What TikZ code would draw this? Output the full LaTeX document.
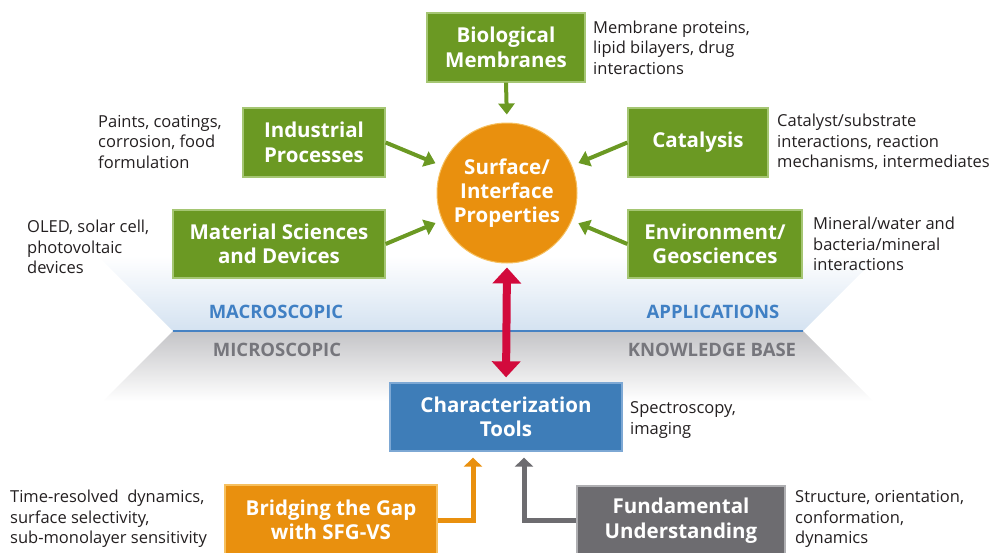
\documentclass[tikz,border=0pt]{standalone}
\usepackage{fontspec}
\setmainfont{Open Sans}
\usetikzlibrary{arrows.meta,calc}

\definecolor{leaf}{RGB}{107,153,35}
\definecolor{leafedge}{RGB}{165,198,115}
\definecolor{amber}{RGB}{233,144,14}
\definecolor{amberedge}{RGB}{246,192,95}
\definecolor{steel}{RGB}{62,125,184}
\definecolor{steeledge}{RGB}{125,168,212}
\definecolor{slate}{RGB}{109,108,112}
\definecolor{slateedge}{RGB}{175,175,178}
\definecolor{crimson}{RGB}{210,10,60}
\definecolor{ink}{RGB}{35,31,32}
\definecolor{macroblue}{RGB}{64,128,196}
\definecolor{microgray}{RGB}{118,118,124}
\definecolor{divider}{RGB}{70,130,195}
\definecolor{bandblue}{RGB}{212,226,241}
\definecolor{bandgray}{RGB}{196,196,199}

\begin{document}
\begin{tikzpicture}[x=1pt,y=-1pt,
  box/.style={draw=#1edge, fill=#1, line width=1.3pt, text=white, align=center,
    inner sep=0pt, font=\bfseries\fontsize{20.5}{24.5}\selectfont},
  desc/.style={anchor=west, align=left, inner sep=0pt, text=ink,
    font=\fontsize{16.5}{20.5}\selectfont},
  scale label/.style={inner sep=0pt, font=\bfseries\fontsize{18.5}{20}\selectfont},
  greenarrow/.style={draw=leaf, line width=4pt, shorten >=#1,
    -{Triangle[width=16pt,length=11pt]}},
  elbowarrow/.style={draw=#1, line width=5pt, shorten >=6pt,
    -{Triangle[width=18pt,length=9pt]}},
  bothways/.style={draw=crimson, line width=8pt, shorten <=4pt, shorten >=5pt,
    {Triangle[width=28pt,length=16pt]}-{Triangle[width=28pt,length=16pt]}}
]
\useasboundingbox (0,0) rectangle (994,552);
\clip (0,0) rectangle (994,552);

% macroscopic / microscopic bands
\shade[top color=white, bottom color=bandblue]
  (173,331) -- (803,331) -- (878,256) -- (98,256) -- cycle;
\shade[top color=bandgray, bottom color=white]
  (173,331) -- (803,331) -- (873,401) -- (103,401) -- cycle;
\coordinate (divL) at (173,331);
\coordinate (divR) at (803,331);
\draw[divider, line width=2pt] (divL) -- (divR);

\node[scale label, text=macroblue] (macro) at (276,312) {MACROSCOPIC};
\node[scale label, text=macroblue] (appl) at (713,312) {APPLICATIONS};
\node[scale label, text=microgray] (micro) at (277,350) {MICROSCOPIC};
\node[scale label, text=microgray] (kbase) at (712,350) {KNOWLEDGE BASE};

% central property
\node[circle, fill=amber, draw=amberedge, line width=1pt, minimum size=140pt,
  inner sep=0pt, text=white, align=center,
  font=\bfseries\fontsize{20.5}{24}\selectfont] (circ) at (507,193)
  {Surface/\\Interface\\Properties};

% application fields
\node[box=leaf, minimum width=158pt, minimum height=69pt] (bio) at (506,47.5)
  {Biological\\Membranes};
\node[box=leaf, minimum width=142pt, minimum height=69pt] (ind) at (314,142.5)
  {Industrial\\Processes};
\node[box=leaf, minimum width=212pt, minimum height=68pt] (mat) at (279,244)
  {Material Sciences\\and Devices};
\node[box=leaf, minimum width=140pt, minimum height=69pt] (cat) at (698,142.5)
  {Catalysis};
\node[box=leaf, minimum width=174pt, minimum height=68pt] (env) at (715,244)
  {Environment/\\Geosciences};

% tools and foundations
\node[box=steel, minimum width=232pt, minimum height=68pt] (char) at (506,417)
  {Characterization\\Tools};
\node[box=amber, minimum width=212pt, minimum height=70pt] (bridge) at (331,520)
  {Bridging the Gap\\with SFG-VS};
\node[box=slate, minimum width=208pt, minimum height=69pt] (fund) at (681,520.5)
  {Fundamental\\Understanding};

% descriptions
\node[desc] (biod) at (593,47.5) {Membrane proteins,\\lipid bilayers, drug\\interactions};
\node[desc] (indd) at (98,142) {Paints, coatings,\\corrosion, food\\formulation};
\node[desc] (matd) at (27,247) {OLED, solar cell,\\photovoltaic\\devices};
\node[desc] (catd) at (777,142) {Catalyst/substrate\\interactions, reaction\\mechanisms, intermediates};
\node[desc] (envd) at (813,244) {Mineral/water and\\bacteria/mineral\\interactions};
\node[desc] (chard) at (630,420) {Spectroscopy,\\imaging};
\node[desc] (bridged) at (10,519) {Time-resolved\ \ dynamics,\\surface selectivity,\\sub-monolayer sensitivity};
\node[desc] (fundd) at (795,519) {Structure, orientation,\\conformation,\\dynamics};

% connectors
\draw[greenarrow=8pt] (bio.south) -- (circ.north);
\draw[greenarrow=7pt] (ind.east) -- (circ);
\draw[greenarrow=7pt] (mat.east) -- (circ);
\draw[greenarrow=7pt] (cat.west) -- (circ);
\draw[greenarrow=7pt] (env.west) -- (circ);
\draw[bothways] (circ.south) -- (char.north);
\draw[elbowarrow=amber] (bridge.east) -| ([xshift=-33pt]char.south);
\draw[elbowarrow=slate] (fund.west) -| ([xshift=18pt]char.south);
\end{tikzpicture}
\end{document}
